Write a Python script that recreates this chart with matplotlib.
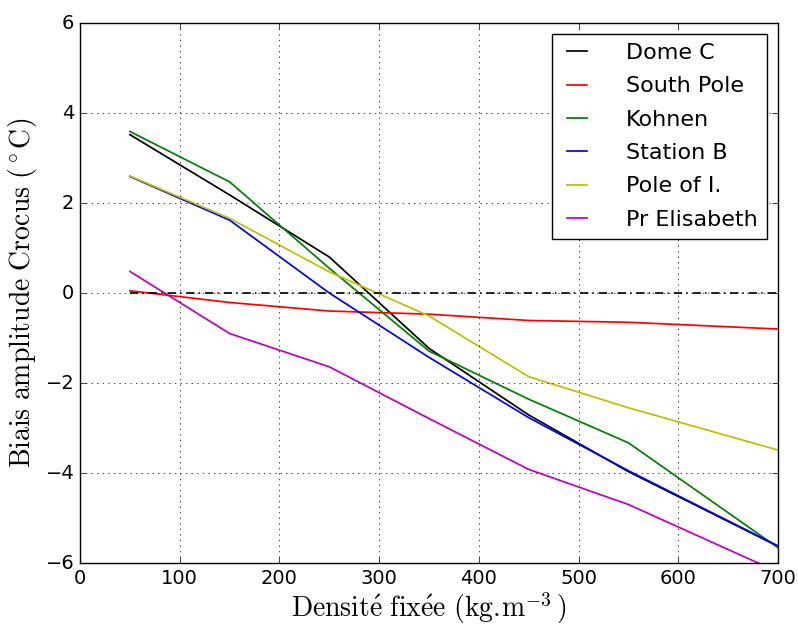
import matplotlib
matplotlib.use('Agg')
import matplotlib.pyplot as plt

plt.style.use('classic')
plt.rcParams['mathtext.fontset'] = 'cm'

# densites fixees
dens = [50, 150, 250, 350, 450, 550, 700]

dome_c = [3.52, 2.18, 0.80, -1.23, -2.71, -3.97, -5.63]
south_pole = [0.05, -0.21, -0.40, -0.47, -0.61, -0.65, -0.80]
kohnen = [3.59, 2.47, 0.55, -1.29, -2.36, -3.33, -5.66]
station_b = [2.59, 1.62, 0.0, -1.43, -2.77, -3.95, -5.62]
pole_of_i = [2.60, 1.66, 0.47, -0.51, -1.86, -2.55, -3.49]
pr_elisabeth = [0.48, -0.90, -1.64, -2.79, -3.92, -4.70, -6.20]

fig = plt.figure(figsize=(7.98, 6.26), dpi=100, facecolor='white')
ax = fig.add_axes([0.1003, 0.1006, 0.8747, 0.8626])

lw = 1.25
ax.plot(dens, dome_c, 'k', lw=lw, label='Dome C')
ax.plot(dens, south_pole, 'r', lw=lw, label='South Pole')
ax.plot(dens, kohnen, 'g', lw=lw, label='Kohnen')
ax.plot(dens, station_b, 'b', lw=lw, label='Station B')
ax.plot(dens, pole_of_i, 'y', lw=lw, label='Pole of I.')
ax.plot(dens, pr_elisabeth, 'm', lw=lw, label='Pr Elisabeth')
ax.plot([dens[0], dens[-1]], [0, 0], 'k-.', lw=1.2, dashes=(6, 3, 1, 3.5))

ax.set_xlim(0, 700)
ax.set_ylim(-6, 6)
ax.grid(True)
ax.tick_params(labelsize=14)

ax.set_xlabel(r'$\mathrm{Densit\acute{e}\ fix\acute{e}e\ (kg{.}\!m^{-3}\,)}$', fontsize=20, labelpad=2)
ax.set_ylabel(r'$\mathrm{Biais\ amplitude\ Crocus\ (^\circ C)}$', fontsize=20)

ax.legend(loc='upper right', fontsize=16, handlelength=1.5, handletextpad=1.45,
          labelspacing=0.6, borderpad=0.4)

fig.savefig('out.png', dpi=100, facecolor='white')
